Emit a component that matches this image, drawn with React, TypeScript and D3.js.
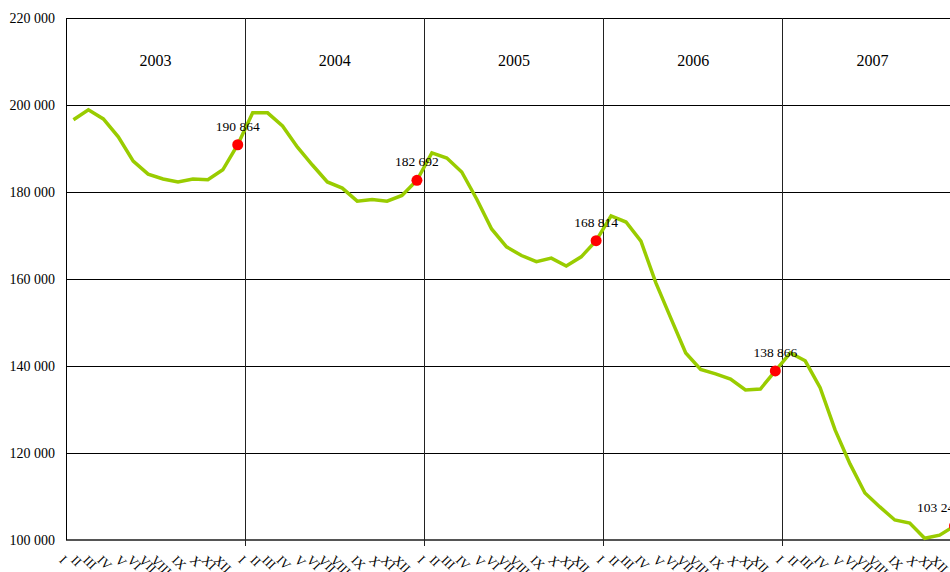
import * as d3 from "d3";

const years = ["2003", "2004", "2005", "2006", "2007"];
const months = ["I", "II", "III", "IV", "V", "VI", "VII", "VIII", "IX", "X", "XI", "XII"];

const values2003 = [196600, 198900, 196800, 192700, 187100, 184100, 183000, 182300, 183000, 182800, 185100, 190864];
const values2004 = [198200, 198200, 195200, 190300, 186200, 182300, 180900, 177900, 178300, 177900, 179200, 182692];
const values2005 = [189000, 187800, 184600, 178400, 171500, 167400, 165400, 164000, 164800, 163000, 165100, 168814];
const values2006 = [174500, 173100, 168700, 159100, 151000, 143000, 139200, 138200, 137000, 134500, 134700, 138866];
const values2007 = [143000, 141200, 135000, 125300, 117500, 110800, 107600, 104600, 103900, 100400, 101100, 103245];

const yTicks = [100000, 120000, 140000, 160000, 180000, 200000, 220000];

const W = 950;
const H = 572;
const left = 66;
const right = 962;
const top = 18;
const bottom = 540;
const serif = "'Liberation Serif', 'Times New Roman', serif";

const fmt = (v: number) => d3.format(",")(v).replace(/,/g, " ");

// rough Times widths for roman numerals
const romanWidth = (s: string, fs: number) =>
  s.split("").reduce((a, c) => a + (c === "I" ? 0.333 : 0.722), 0) * fs;

export default function App() {
  const series = [values2003, values2004, values2005, values2006, values2007];
  const data = series.flatMap((vals, yi) =>
    vals.map((v, mi) => ({ key: `${years[yi]}-${months[mi]}`, year: years[yi], month: months[mi], value: v }))
  );

  const x = d3.scaleBand<string>().domain(data.map((d) => d.key)).range([left, right]).padding(0);
  const y = d3.scaleLinear().domain([100000, 220000]).range([bottom, top]);
  const cx = (k: string) => (x(k) as number) + x.bandwidth() / 2;

  const yearX = d3.scaleBand<string>().domain(years).range([left, right]);

  const line = d3
    .line<(typeof data)[number]>()
    .x((d) => cx(d.key))
    .y((d) => y(d.value));

  const marked = data.filter((d) => d.month === "XII");
  const tickFs = 13;

  return (
    <div style={{ position: "absolute", left: 0, top: 0 }}>
      <svg width={W} height={H} style={{ display: "block", background: "#fff" }}>
        {/* horizontal grid */}
        {yTicks.map((t) => (
          <line
            key={t}
            x1={left}
            x2={right}
            y1={y(t)}
            y2={y(t)}
            stroke={t === 100000 ? "#555" : "#000"}
            strokeWidth={t === 100000 ? 2 : 1}
            shapeRendering="crispEdges"
          />
        ))}
        {yTicks.map((t) => (
          <text
            key={"l" + t}
            x={55}
            y={y(t)}
            dy="0.35em"
            textAnchor="end"
            fontFamily={serif}
            fontSize={14}
            fill="#000"
          >
            {fmt(t)}
          </text>
        ))}
        {/* left axis */}
        <line x1={left} x2={left} y1={top} y2={bottom} stroke="#000" shapeRendering="crispEdges" />
        {/* year separators */}
        {years.slice(1).map((yr) => (
          <line
            key={yr}
            x1={yearX(yr)}
            x2={yearX(yr)}
            y1={top}
            y2={bottom + 6}
            stroke="#222"
            shapeRendering="crispEdges"
          />
        ))}
        {years.map((yr) => (
          <text
            key={"y" + yr}
            x={(yearX(yr) as number) + yearX.bandwidth() / 2}
            y={66}
            textAnchor="middle"
            fontFamily={serif}
            fontSize={16}
            fill="#000"
          >
            {yr}
          </text>
        ))}
        {/* month labels */}
        {data.map((d) => {
          const w = romanWidth(d.month, tickFs);
          const sx = cx(d.key) - 12 - 0.707 * w;
          return (
            <text
              key={"m" + d.key}
              transform={`translate(${sx},561) rotate(45)`}
              fontFamily={serif}
              fontSize={tickFs}
              fill="#000"
            >
              {d.month}
            </text>
          );
        })}
        <path
          d={line(data) as string}
          fill="none"
          stroke="#99cc00"
          strokeWidth={3.5}
          strokeLinejoin="miter"
        />
        {marked.map((d) => (
          <g key={"p" + d.key}>
            <circle cx={cx(d.key)} cy={y(d.value)} r={5.5} fill="#ff0000" />
            <text
              x={Math.min(cx(d.key), right - 23)}
              y={y(d.value) - 14}
              textAnchor="middle"
              fontFamily={serif}
              fontSize={13.5}
              fill="#000"
            >
              {fmt(d.value)}
            </text>
          </g>
        ))}
      </svg>
    </div>
  );
}
